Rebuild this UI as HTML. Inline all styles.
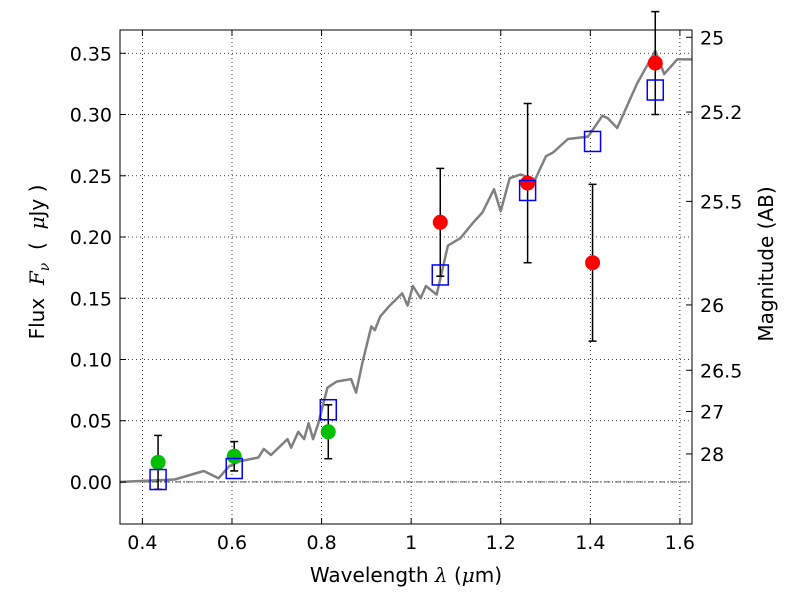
<!DOCTYPE html>
<html><head><meta charset="utf-8"><style>
body{margin:0;background:#fff;}
svg text{font-family:"DejaVu Sans","Liberation Sans",sans-serif;}
</style></head><body>
<svg id="chart" width="800" height="600" xmlns="http://www.w3.org/2000/svg"></svg>
<script>
const xTicks=[0.4,0.6,0.8,1.0,1.2,1.4,1.6];
const xTickLabels=["0.4","0.6","0.8","1","1.2","1.4","1.6"];
const yTicks=[0,0.05,0.10,0.15,0.20,0.25,0.30,0.35];
const yTickLabels=["0.00","0.05","0.10","0.15","0.20","0.25","0.30","0.35"];
const magTicks=[25,25.2,25.5,26,26.5,27,28];
const magTickLabels=["25","25.2","25.5","26","26.5","27","28"];
const specWave=[0.35,0.472,0.537,0.57,0.594,0.618,0.659,0.671,0.687,0.724,0.732,0.748,0.761,0.771,0.781,0.793,0.813,0.834,0.866,0.877,0.891,0.911,0.919,0.931,0.952,0.98,0.992,1.004,1.021,1.033,1.057,1.082,1.11,1.139,1.159,1.185,1.2,1.22,1.244,1.277,1.301,1.317,1.35,1.395,1.427,1.439,1.46,1.504,1.545,1.565,1.594,1.627];
const specFlux=[0,0.002,0.009,0.003,0.013,0.017,0.02,0.027,0.022,0.035,0.028,0.041,0.035,0.048,0.035,0.048,0.077,0.082,0.084,0.073,0.097,0.127,0.124,0.135,0.144,0.154,0.144,0.16,0.15,0.16,0.153,0.193,0.199,0.212,0.22,0.239,0.221,0.248,0.251,0.247,0.266,0.269,0.28,0.282,0.299,0.297,0.289,0.325,0.352,0.333,0.345,0.345];
const redWave=[1.065,1.26,1.405,1.545];
const redFlux=[0.212,0.244,0.179,0.342];
const redErr=[0.044,0.065,0.064,0.042];
const greenWave=[0.435,0.605,0.815];
const greenFlux=[0.016,0.021,0.041];
const greenErr=[0.022,0.012,0.022];
const modelWave=[0.435,0.605,0.815,1.065,1.26,1.405,1.545];
const modelFlux=[0.002,0.011,0.059,0.169,0.238,0.278,0.320];

const L=120,R=692,T=30,B=524,xmin=0.35,xmax=1.627,ymin=-0.0343,ymax=0.369;
const X=v=>L+(v-xmin)/(xmax-xmin)*(R-L);
const Y=v=>B-(v-ymin)/(ymax-ymin)*(B-T);
const svg=document.getElementById('chart');
const NS="http://www.w3.org/2000/svg";
function mk(tag,attrs,parent){const e=document.createElementNS(NS,tag);for(const k in attrs)e.setAttribute(k,attrs[k]);(parent||svg).appendChild(e);return e;}
function txt(s,attrs){const e=mk('text',attrs);e.textContent=s;return e;}

xTicks.forEach(v=>{const g=mk('line',{x1:X(v),x2:X(v),y1:T,y2:B,stroke:'#000','stroke-dasharray':'1,3','stroke-width':0.8});

});
yTicks.forEach(v=>{const g=mk('line',{x1:L,x2:R,y1:Y(v),y2:Y(v),stroke:'#000','stroke-dasharray':'1,3','stroke-width':0.8});

});
const z=mk('line',{x1:L,x2:R,y1:Y(0),y2:Y(0),stroke:'#000','stroke-dasharray':'6,2,1,2','stroke-width':0.6});



let d=specWave.map((w,i)=>(i?'L':'M')+X(w).toFixed(1)+','+Y(specFlux[i]).toFixed(1)).join('');
const sp=mk('path',{d:d,fill:'none',stroke:'#808080','stroke-width':2.5,'stroke-linejoin':'round'});



function errs(w,f,e,name){w.forEach((v,i)=>{const x=X(v),y1=Y(f[i]-e[i]),y2=Y(f[i]+e[i]);
const g=mk('g',{stroke:'#000','stroke-width':1.5});


mk('line',{x1:x,x2:x,y1:y1,y2:y2},g);mk('line',{x1:x-4,x2:x+4,y1:y1,y2:y1},g);mk('line',{x1:x-4,x2:x+4,y1:y2,y2:y2},g);});}
errs(redWave,redFlux,redErr,'red-errorbar');
errs(greenWave,greenFlux,greenErr,'green-errorbar');
redWave.forEach((v,i)=>{const c=mk('circle',{cx:X(v),cy:Y(redFlux[i]),r:7.5,fill:'#ff0000'});

});
greenWave.forEach((v,i)=>{const c=mk('circle',{cx:X(v),cy:Y(greenFlux[i]),r:7.5,fill:'#00c000'});

});
modelWave.forEach((v,i)=>{const s=mk('rect',{x:X(v)-8,y:Y(modelFlux[i])-10,width:16,height:20,fill:'none',stroke:'#0000ff','stroke-width':1.5});

});

const fr=mk('rect',{x:L,y:T,width:R-L,height:B-T,fill:'none',stroke:'#000','stroke-width':1});



xTicks.forEach((v,i)=>{mk('line',{x1:X(v),x2:X(v),y1:B,y2:B-6,stroke:'#000'});mk('line',{x1:X(v),x2:X(v),y1:T,y2:T+6,stroke:'#000'});
const t=txt(xTickLabels[i],{x:X(v),y:B+25,'font-size':19,'text-anchor':'middle'});

});
yTicks.forEach((v,i)=>{mk('line',{x1:L,x2:L+6,y1:Y(v),y2:Y(v),stroke:'#000'});
const t=txt(yTickLabels[i],{x:L-8,y:Y(v)+7,'font-size':19,'text-anchor':'end'});

});
magTicks.forEach((m,i)=>{const f=Math.pow(10,(23.9-m)/2.5);const y=Y(f);
mk('line',{x1:R,x2:R-6,y1:y,y2:y,stroke:'#000'});
const t=txt(magTickLabels[i],{x:R+8,y:y+7,'font-size':19});

});
</script>
<svg style="position:absolute;left:0;top:0" width="800" height="600" xmlns="http://www.w3.org/2000/svg">
<text x="406" y="582" font-size="20" text-anchor="middle">Wavelength  <tspan font-family="DejaVu Serif" font-style="italic">λ</tspan> (<tspan font-family="DejaVu Serif" font-style="italic">μ</tspan>m)</text>
<text transform="translate(44,262) rotate(-90)" font-size="20" text-anchor="middle" xml:space="preserve">Flux  <tspan font-family="DejaVu Serif" font-style="italic">F</tspan><tspan font-family="DejaVu Serif" font-style="italic" font-size="14" dy="5">ν</tspan><tspan dy="-5">  (  </tspan><tspan font-family="DejaVu Serif" font-style="italic">μ</tspan>Jy )</text>
<text transform="translate(773,264) rotate(-90)" font-size="20" text-anchor="middle">Magnitude (AB)</text>
</svg>
</body></html>
